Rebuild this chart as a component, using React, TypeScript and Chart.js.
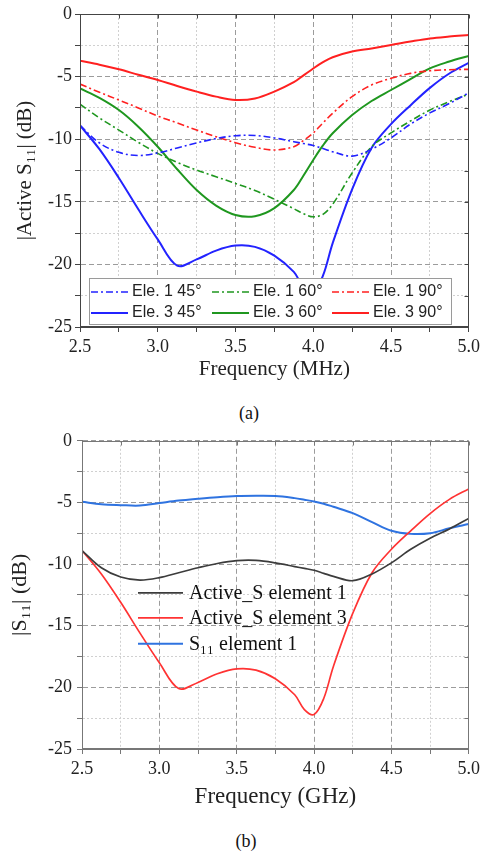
import React, { useEffect, useRef } from 'react';
import { Chart, registerables } from 'chart.js';

Chart.register(...registerables);

// ---------- data ----------
const FREQ = [2.5, 2.625, 2.75, 2.875, 3.0, 3.125, 3.25, 3.375, 3.5, 3.625, 3.75, 3.875, 3.9375, 4.0, 4.0625, 4.125, 4.25, 4.375, 4.5, 4.625, 4.75, 4.875, 5.0];

// Active S11, element 1 (45° scan) == "Active_S element 1"
const ELE1_45 = [-8.9, -10.3, -11.05, -11.3, -11.1, -10.7, -10.3, -9.95, -9.72, -9.7, -9.9, -10.2, -10.35, -10.5, -10.75, -11.0, -11.35, -10.8, -9.9, -8.8, -7.9, -7.15, -6.3];
const ELE1_60 = [-7.2, -8.3, -9.27, -10.25, -11.13, -11.85, -12.46, -13.0, -13.53, -14.1, -14.8, -15.55, -15.95, -16.2, -16.0, -15.2, -12.7, -10.6, -9.5, -8.55, -7.67, -7.0, -6.39];
const ELE1_90 = [-5.6, -6.25, -6.87, -7.5, -8.15, -8.7, -9.27, -9.8, -10.28, -10.65, -10.86, -10.6, -10.1, -9.5, -8.7, -7.93, -6.6, -5.67, -5.14, -4.74, -4.53, -4.45, -4.42];
// Active S11, element 3 (45° scan) == "Active_S element 3"
const ELE3_45 = [-8.9, -10.8, -13.1, -15.6, -18.0, -20.1, -19.6, -18.9, -18.5, -18.6, -19.3, -20.6, -21.8, -22.2, -20.9, -18.3, -14.0, -10.7, -8.8, -7.3, -5.9, -4.75, -3.9];
const ELE3_60 = [-5.94, -6.7, -7.67, -9.0, -10.6, -12.4, -14.06, -15.3, -16.05, -16.15, -15.5, -14.06, -12.9, -11.66, -10.5, -9.53, -8.07, -6.95, -6.07, -5.2, -4.34, -3.8, -3.35];
const ELE3_90 = [-3.73, -4.05, -4.42, -4.85, -5.27, -5.75, -6.2, -6.6, -6.87, -6.75, -6.2, -5.45, -4.9, -4.35, -3.85, -3.45, -3.0, -2.75, -2.48, -2.2, -1.95, -1.8, -1.68];
// passive S11 of element 1
const S11_ELE1 = [-4.95, -5.15, -5.22, -5.25, -5.05, -4.85, -4.7, -4.57, -4.48, -4.46, -4.48, -4.65, -4.78, -4.92, -5.1, -5.35, -5.87, -6.6, -7.3, -7.55, -7.5, -7.1, -6.75];

const LABELS_A = ['Ele. 1 45°', 'Ele. 1 60°', 'Ele. 1 90°', 'Ele. 3 45°', 'Ele. 3 60°', 'Ele. 3 90°'];
const LABELS_B = ['Active_S element 1', 'Active_S element 3', 'S₁₁ element 1'];

const X_MIN = 2.5, X_MAX = 5.0, X_STEP = 0.25;
const Y_MIN = -25, Y_MAX = 0, Y_STEP = 2.5;

// ---------- styles ----------
const SERIF = "'Liberation Serif', 'Times New Roman', serif";
const SANS = "'Liberation Sans', Arial, sans-serif";
const BLUE = '#2323ff';
const GREEN = '#1f971f';
const RED = '#ff2020';
const DASHDOT = [7, 3, 2, 3];

const pts = (arr: number[]) => FREQ.map((x, i) => ({ x, y: arr[i] }));
const isMajorX = (v: number) => Math.abs(v * 2 - Math.round(v * 2)) < 1e-6;
const isMajorY = (v: number) => Math.abs(v / 5 - Math.round(v / 5)) < 1e-6;

function makeScales(o: any) {
  return {
    x: {
      type: 'linear', min: X_MIN, max: X_MAX,
      afterFit: (s: any) => { s.height = o.xHeight; },
      ticks: {
        stepSize: X_STEP, autoSkip: false, maxRotation: 0, minRotation: 0, padding: o.xPad,
        color: '#222', font: { family: SERIF, size: 18 },
        callback: (v: any) => (isMajorX(Number(v)) ? Number(v).toFixed(1) : ''),
      },
      grid: {
        color: (c: any) => (c.tick && isMajorX(c.tick.value) ? '#9c9c9c' : '#d0d0d0'),
        lineWidth: 1, tickLength: 5, tickColor: o.axisColor, drawTicks: true,
      },
      border: { display: true, color: o.axisColor, width: 1, dash: (c: any) => (c.tick && isMajorX(c.tick.value) ? [5, 3] : [2, 2]) },
      title: { display: true, text: o.xTitle, color: '#222', font: { family: SERIF, size: o.xTitleSize }, padding: { top: 4, bottom: 4 } },
    },
    y: {
      type: 'linear', min: Y_MIN, max: Y_MAX,
      afterFit: (s: any) => { s.width = o.yWidth; },
      ticks: {
        stepSize: Y_STEP, autoSkip: false, padding: o.yPad,
        color: '#222', font: { family: SERIF, size: 18 },
        callback: (v: any) => (isMajorY(Number(v)) ? String(Math.round(Number(v))) : ''),
      },
      grid: {
        color: (c: any) => (c.tick && isMajorY(c.tick.value) ? '#9c9c9c' : '#d0d0d0'),
        lineWidth: 1, tickLength: 5, tickColor: o.axisColor, drawTicks: true,
      },
      border: { display: true, color: o.axisColor, width: 1, dash: (c: any) => (c.tick && isMajorY(c.tick.value) ? [5, 3] : [2, 2]) },
      title: { display: true, text: o.yTitle, color: '#222', font: { family: SERIF, size: o.yTitleSize }, padding: { top: 4, bottom: 4 } },
    },
  };
}

function makeFrame(color: string) {
  return {
    id: 'frame',
    afterDatasetsDraw(chart: any) {
      const { ctx, chartArea: a, scales } = chart;
      ctx.save();
      ctx.strokeStyle = color;
      ctx.lineWidth = 1;
      ctx.setLineDash([]);
      const l = Math.round(a.left) + 0.5, t = Math.round(a.top) + 0.5;
      const r = Math.round(a.right) - 0.5, b = Math.round(a.bottom) - 0.5;
      ctx.strokeRect(l, t, r - l, b - t);
      ctx.beginPath();
      scales.y.ticks.forEach((tk: any) => {
        const py = Math.round(scales.y.getPixelForValue(tk.value)) + 0.5;
        ctx.moveTo(r - 4, py); ctx.lineTo(r, py);
      });
      scales.x.ticks.forEach((tk: any) => {
        const px = Math.round(scales.x.getPixelForValue(tk.value)) + 0.5;
        ctx.moveTo(px, t); ctx.lineTo(px, t + 4);
      });
      ctx.stroke();
      ctx.restore();
    },
  };
}

const legendAPlugin = {
  id: 'legendA',
  afterDatasetsDraw(chart: any) {
    const { ctx, chartArea: a } = chart;
    const x0 = a.left + 9, y0 = a.bottom - 49, w = 362, h = 46;
    ctx.save();
    ctx.fillStyle = '#fff';
    ctx.fillRect(x0, y0, w, h);
    ctx.strokeStyle = '#9a9a9a';
    ctx.lineWidth = 1;
    ctx.setLineDash([]);
    ctx.strokeRect(Math.round(x0) + 0.5, Math.round(y0) + 0.5, w, h);
    const colLine = [2, 123, 243];
    const rowY = [14, 35];
    chart.data.datasets.forEach((ds: any, i: number) => {
      const row = Math.floor(i / 3), col = i % 3;
      const lx = x0 + colLine[col], ly = y0 + rowY[row];
      ctx.beginPath();
      ctx.strokeStyle = ds.borderColor;
      ctx.lineWidth = ds.borderWidth;
      ctx.setLineDash(ds.borderDash || []);
      ctx.moveTo(lx, ly); ctx.lineTo(lx + 37, ly);
      ctx.stroke();
      ctx.setLineDash([]);
      ctx.fillStyle = '#222';
      ctx.font = `16px ${SANS}`;
      ctx.textBaseline = 'middle';
      ctx.textAlign = 'left';
      ctx.fillText(ds.label, lx + 41, ly);
    });
    ctx.restore();
  },
};

const legendBPlugin = {
  id: 'legendB',
  afterDatasetsDraw(chart: any) {
    const { ctx, chartArea: a } = chart;
    const rowY = [152, 177, 203];
    ctx.save();
    chart.data.datasets.forEach((ds: any, i: number) => {
      const lx = a.left + 56, ly = a.top + rowY[i];
      ctx.beginPath();
      ctx.strokeStyle = ds.borderColor;
      ctx.lineWidth = ds.borderWidth;
      ctx.setLineDash([]);
      ctx.moveTo(lx, ly); ctx.lineTo(lx + 45, ly);
      ctx.stroke();
      ctx.fillStyle = '#111';
      ctx.font = `20px ${SERIF}`;
      ctx.textBaseline = 'middle';
      ctx.textAlign = 'left';
      ctx.fillText(ds.label, lx + 51, ly + 1);
    });
    ctx.restore();
  },
};

function line(label: string, arr: number[], color: string, dash: number[] | null, width: number) {
  return {
    label, data: pts(arr), borderColor: color, backgroundColor: color, borderWidth: width,
    borderDash: dash || [], pointRadius: 0, fill: false, tension: 0.35,
  };
}

function configA(): any {
  return {
    type: 'line',
    data: {
      datasets: [
        line(LABELS_A[0], ELE1_45, BLUE, DASHDOT, 1.6),
        line(LABELS_A[1], ELE1_60, GREEN, DASHDOT, 1.6),
        line(LABELS_A[2], ELE1_90, RED, DASHDOT, 1.6),
        line(LABELS_A[3], ELE3_45, BLUE, null, 2),
        line(LABELS_A[4], ELE3_60, GREEN, null, 2),
        line(LABELS_A[5], ELE3_90, RED, null, 2),
      ],
    },
    options: {
      responsive: false, animation: false, devicePixelRatio: 1,
      layout: { padding: { left: 9, right: 14, top: 14, bottom: 14 } },
      plugins: { legend: { display: false }, tooltip: { enabled: false } },
      scales: makeScales({ axisColor: '#444', xHeight: 59, yWidth: 71, xPad: 4, yPad: 3, xTitle: 'Frequency (MHz)', yTitle: '|Active S₁₁| (dB)', xTitleSize: 21, yTitleSize: 21 }),
    },
    plugins: [makeFrame('#444'), legendAPlugin],
  };
}

function configB(): any {
  return {
    type: 'line',
    data: {
      datasets: [
        line(LABELS_B[0], ELE1_45, '#3c3c3c', null, 1.7),
        line(LABELS_B[1], ELE3_45, '#ff3333', null, 1.7),
        line(LABELS_B[2], S11_ELE1, '#2f73e0', null, 2),
      ],
    },
    options: {
      responsive: false, animation: false, devicePixelRatio: 1,
      layout: { padding: { left: 3, right: 13, top: 12, bottom: 5 } },
      plugins: { legend: { display: false }, tooltip: { enabled: false } },
      scales: makeScales({ axisColor: '#777', xHeight: 66, yWidth: 79, xPad: 4, yPad: 5, xTitle: 'Frequency (GHz)', yTitle: '|S₁₁| (dB)', xTitleSize: 23, yTitleSize: 22 }),
    },
    plugins: [makeFrame('#777'), legendBPlugin],
  };
}

export default function App() {
  const refA = useRef<HTMLCanvasElement | null>(null);
  const refB = useRef<HTMLCanvasElement | null>(null);
  useEffect(() => {
    const a = new Chart(refA.current as HTMLCanvasElement, configA());
    const b = new Chart(refB.current as HTMLCanvasElement, configB());
    return () => { a.destroy(); b.destroy(); };
  }, []);
  const cap: React.CSSProperties = { position: 'absolute', width: 40, textAlign: 'center', fontFamily: SERIF, fontSize: 18, lineHeight: '20px', color: '#111' };
  return (
    <div style={{ position: 'absolute', left: 0, top: 0, width: 484, height: 853, background: '#fff', overflow: 'hidden' }}>
      <canvas ref={refA} width={484} height={400} style={{ position: 'absolute', left: 0, top: 0, width: 484, height: 400 }} />
      <div style={{ ...cap, left: 229, top: 403 }}>(a)</div>
      <canvas ref={refB} width={484} height={395} style={{ position: 'absolute', left: 0, top: 425, width: 484, height: 395 }} />
      <div style={{ ...cap, left: 226, top: 831 }}>(b)</div>
    </div>
  );
}
